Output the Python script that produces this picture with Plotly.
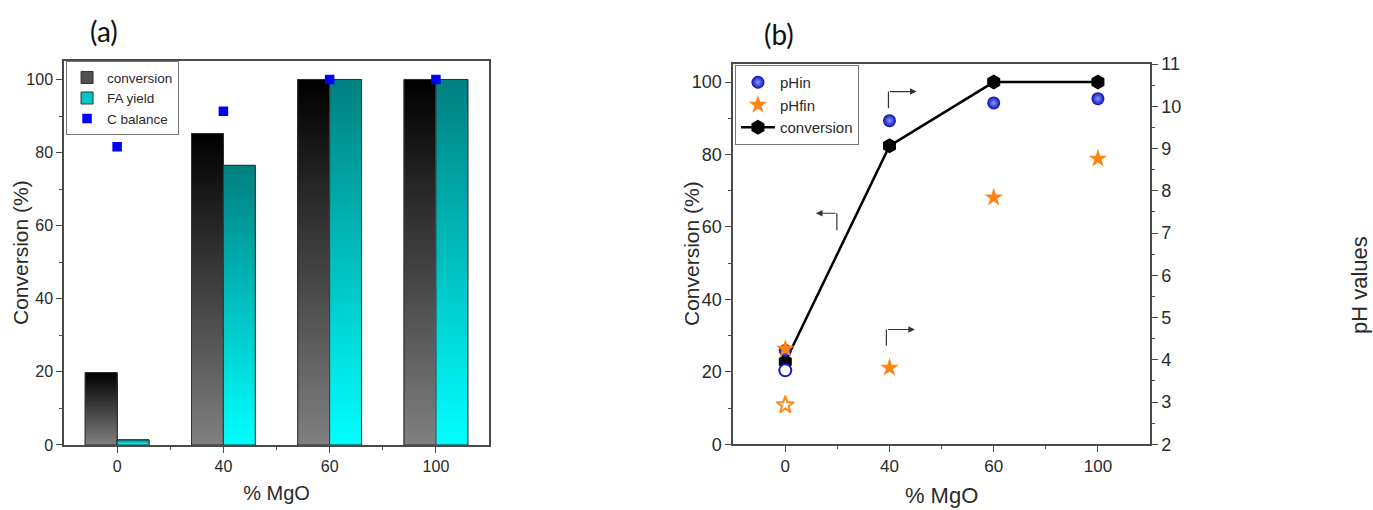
import plotly.graph_objects as go

# ---------------- data ----------------
mgo_labels = ["0", "40", "60", "100"]

# panel (a)
conversion_a = [19.8, 85.2, 100.0, 100.0]
fa_yield = [1.4, 76.5, 100.0, 100.0]
c_balance = [81.6, 91.3, 100.0, 100.0]

# panel (b)
conversion_b = [22.8, 82.4, 100.0, 100.0]
ph_in = [4.22, 9.66, 10.08, 10.18]
ph_fin = [4.26, 3.81, 7.84, 8.76]
ph_in_open = [3.75]    # open symbol at 0 % MgO
ph_fin_open = [2.93]   # open symbol at 0 % MgO

# ---------------- style ----------------
FONT = "Liberation Sans, Arial, sans-serif"
TXT = "#2a2a2a"
AX = "#4a4a4a"
N_SLICES = 80
BAR_W = 0.3
W, H = 1373, 510

xpos = list(range(len(mgo_labels)))


def lerp_color(c0, c1, t):
    return "rgb({},{},{})".format(*[round(a + (b - a) * t) for a, b in zip(c0, c1)])


def gradient_bar(values, offset, bottom_rgb, top_rgb, xaxis, yaxis):
    # nested slices drawn tallest first, so each visible band shows one colour
    xs, hs, cols = [], [], []
    for x, v in zip(xpos, values):
        for k in range(N_SLICES - 1, -1, -1):
            xs.append(x)
            hs.append(v * (k + 1) / N_SLICES)
            cols.append(lerp_color(bottom_rgb, top_rgb, (k + 0.5) / N_SLICES))
    return go.Bar(x=xs, y=hs, offset=offset, width=BAR_W,
                  marker=dict(color=cols, line=dict(width=0)),
                  showlegend=False, hoverinfo="skip", xaxis=xaxis, yaxis=yaxis)


fig = go.Figure()

# ---- panel (a) bars ----
series_a = [
    ("conversion", conversion_a, -BAR_W, (128, 128, 128), (0, 0, 0), "#505050"),
    ("FA yield", fa_yield, 0.0, (0, 255, 255), (0, 128, 128), "#00c8c8"),
]
for name, vals, off, bot, top, mid in series_a:
    fig.add_trace(go.Bar(x=xpos, y=vals, offset=off, width=BAR_W, name=name,
                         marker=dict(color=mid, line=dict(color="#333333", width=1)),
                         legend="legend", xaxis="x", yaxis="y"))
    fig.add_trace(gradient_bar(vals, off, bot, top, "x", "y"))
    fig.add_trace(go.Bar(x=xpos, y=vals, offset=off, width=BAR_W,
                         marker=dict(color="rgba(0,0,0,0)",
                                     line=dict(color="#333333", width=1)),
                         showlegend=False, hoverinfo="skip", xaxis="x", yaxis="y"))

fig.add_trace(go.Scatter(x=xpos, y=c_balance, mode="markers", name="C balance",
                         marker=dict(symbol="square", size=9.5, color="#0000ff"),
                         legend="legend", xaxis="x", yaxis="y"))

# ---- panel (b) ----
fig.add_trace(go.Scatter(x=xpos, y=conversion_b, mode="lines+markers", name="conversion",
                         line=dict(color="black", width=2.5),
                         marker=dict(symbol="hexagon", size=15, color="black"),
                         legend="legend2", legendrank=3, xaxis="x2", yaxis="y2"))
fig.add_trace(go.Scatter(x=xpos[:1], y=ph_in_open, mode="markers", showlegend=False,
                         marker=dict(symbol="circle", size=12, color="white",
                                     line=dict(color="#1a1acc", width=2)),
                         xaxis="x2", yaxis="y3"))
fig.add_trace(go.Scatter(x=xpos, y=ph_in, mode="markers", name="pHin",
                         marker=dict(symbol="circle", size=13, color="#0a0db5",
                                     gradient=dict(type="radial", color="#8a98ff"),
                                     line=dict(width=0)),
                         legend="legend2", legendrank=1, xaxis="x2", yaxis="y3"))
fig.add_trace(go.Scatter(x=xpos[:1], y=ph_fin_open, mode="markers", showlegend=False,
                         marker=dict(symbol="star", size=13, color="white",
                                     line=dict(color="#ff8c1a", width=2)),
                         xaxis="x2", yaxis="y3"))
fig.add_trace(go.Scatter(x=xpos, y=ph_fin, mode="markers", name="pHfin",
                         marker=dict(symbol="star", size=14, color="#ff8412",
                                     line=dict(width=0)),
                         legend="legend2", legendrank=2, xaxis="x2", yaxis="y3"))

# ---- axes ----
def xax(domain, anchor, tsize, ttsize):
    return dict(domain=domain, anchor=anchor, range=[-0.5, 3.5], automargin=False,
                tickmode="array", tickvals=xpos, ticktext=mgo_labels,
                ticks="outside", ticklen=6, tickwidth=1.3, tickcolor=AX,
                minor=dict(ticks="outside", ticklen=3, tickwidth=1.2, tickcolor=AX,
                           tickmode="array", tickvals=[0.5, 1.5, 2.5]),
                showline=True, linecolor=AX, linewidth=1.5, mirror=True,
                showgrid=False, zeroline=False,
                tickfont=dict(family=FONT, size=tsize, color=TXT),
                title=dict(text="% MgO", font=dict(family=FONT, size=ttsize, color=TXT),
                           standoff=12))


def yax(domain, anchor, tsize):
    return dict(domain=domain, anchor=anchor, range=[0, 105], automargin=False,
                tickmode="array", tickvals=[0, 20, 40, 60, 80, 100],
                ticks="outside", ticklen=6, tickwidth=1.3, tickcolor=AX,
                minor=dict(ticks="outside", ticklen=3, tickwidth=1.2, tickcolor=AX,
                           tickmode="array", tickvals=[10, 30, 50, 70, 90]),
                showline=True, linecolor=AX, linewidth=1.5, mirror=True,
                showgrid=False, zeroline=False,
                tickfont=dict(family=FONT, size=tsize, color=TXT))


legend_common = dict(bgcolor="white", bordercolor="#777777", borderwidth=1,
                     xanchor="left", yanchor="top", tracegroupgap=0,
                     itemclick=False, itemdoubleclick=False)

fig.update_layout(
    width=W, height=H, autosize=False,
    margin=dict(l=0, r=0, t=0, b=0, autoexpand=False),
    paper_bgcolor="white", plot_bgcolor="white",
    font=dict(family=FONT, color=TXT),
    barmode="overlay",
    xaxis=xax([0.0466, 0.3562], "y", 16, 20),
    yaxis=yax([0.1275, 0.880], "x", 16),
    xaxis2=xax([0.534, 0.8376], "y2", 17, 22),
    yaxis2=yax([0.1288, 0.8745], "x2", 18),
    yaxis3=dict(overlaying="y2", side="right", anchor="x2", range=[2, 11], automargin=False,
                tickmode="array", tickvals=list(range(2, 12)),
                ticks="outside", ticklen=6, tickwidth=1.3, tickcolor=AX,
                minor=dict(ticks="outside", ticklen=3, tickwidth=1.2, tickcolor=AX,
                           tickmode="array", tickvals=[x + 0.5 for x in range(2, 11)]),
                showline=True, linecolor=AX, linewidth=1.5,
                showgrid=False, zeroline=False,
                tickfont=dict(family=FONT, size=18, color=TXT)),
    legend=dict(x=0.0481, y=0.880, itemwidth=30,
                font=dict(family=FONT, size=13.5, color=TXT), **legend_common),
    legend2=dict(x=0.5353, y=0.8725, itemwidth=34,
                 font=dict(family=FONT, size=15, color=TXT), **legend_common),
)

# ---- y-axis titles (placed as rotated text) ----
for txt, xp, yp, fs in [("Conversion (%)", 20, 253, 21),
                        ("Conversion (%)", 691, 254, 21),
                        ("pH values", 1359, 285, 22)]:
    fig.add_annotation(text=txt, xref="paper", yref="paper", x=xp / W, y=1 - yp / H,
                       xanchor="center", yanchor="middle", textangle=-90, showarrow=False,
                       font=dict(family=FONT, size=fs, color=TXT))

# ---- panel labels ----
for txt, xp, yp in [("(a)", 104, 31), ("(b)", 779, 34)]:
    fig.add_annotation(text=txt, xref="paper", yref="paper", x=xp / W, y=1 - yp / H,
                       xanchor="center", yanchor="middle", showarrow=False,
                       font=dict(family="Lato, Open Sans, sans-serif", size=28, color="#111111"))

# ---- bent arrows in panel (b) ----
arrows = [  # (x_corner, y_start, y_corner, x_head)
    (0.495, 59.1, 63.8, 0.294),
    (0.99, 92.8, 97.4, 1.26),
    (0.97, 27.2, 31.7, 1.244),
]
for xc, y0, y1, xh in arrows:
    fig.add_shape(type="line", xref="x2", yref="y2", x0=xc, x1=xc, y0=y0, y1=y1,
                  line=dict(color="#333333", width=1.2))
    fig.add_annotation(x=xh, y=y1, ax=xc, ay=y1, xref="x2", yref="y2",
                       axref="x2", ayref="y2", text="", showarrow=True,
                       arrowhead=2, arrowsize=1.1, arrowwidth=1.2, arrowcolor="#333333")

post = "document.body.style.margin='0';document.documentElement.style.overflow='hidden';"
fig.write_html("out.html", post_script=post, config={"displayModeBar": False})
